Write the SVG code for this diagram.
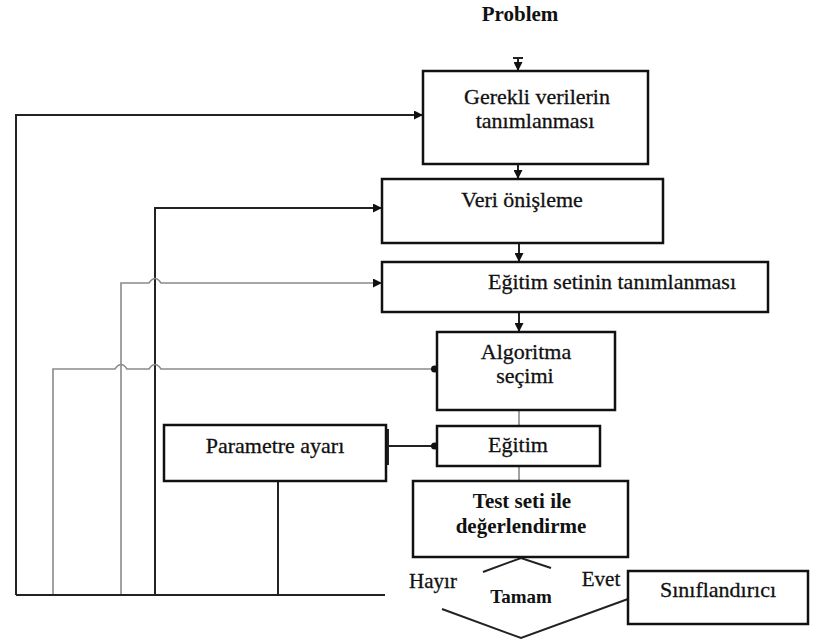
<svg xmlns="http://www.w3.org/2000/svg" width="835" height="644" viewBox="0 0 835 644">
  <style>
    .box { fill: #fff; stroke: #111; stroke-width: 2.5; }
    .t { font-family: "Liberation Serif", "Times New Roman", serif; font-size: 22px; fill: #111; stroke: #111; stroke-width: 0.3; text-anchor: middle; }
    .b { font-weight: bold; stroke-width: 0; }
    .ln { fill: none; stroke: #222; stroke-width: 2; }
    .lg { fill: none; stroke: #8a8a8a; stroke-width: 1.6; }
  </style>
  <defs>
    <marker id="tri" viewBox="0 0 10 10" refX="10" refY="5" markerWidth="9" markerHeight="9" markerUnits="userSpaceOnUse" orient="auto">
      <path d="M0,0 L10,5 L0,10 Z" fill="#111"/>
    </marker>
    <marker id="dot" viewBox="0 0 10 10" refX="8" refY="5" markerWidth="8" markerHeight="8" markerUnits="userSpaceOnUse" orient="auto">
      <circle cx="5" cy="5" r="4.5" fill="#111"/>
    </marker>
  </defs>

  <rect width="835" height="644" fill="#fff"/>

  <text class="t b" x="520" y="21" style="font-size:21px">Problem</text>

  <g id="connectors">
    <!-- main vertical flow -->
    <path class="ln" d="M518,57 V71" marker-end="url(#tri)"/>
    <path class="ln" d="M513,58 H523"/>
    <path class="ln" d="M518,164 V179" marker-end="url(#tri)"/>
    <path class="ln" d="M519,243 V262" marker-end="url(#tri)"/>
    <path class="ln" d="M519,312 V332" marker-end="url(#tri)"/>
    <path class="lg" d="M519,410 V426"/>
    <path class="lg" d="M519,466 V481"/>

    <!-- feedback loops from the bottom bus -->
    <path class="ln" d="M16,595 V115 H423" marker-end="url(#tri)"/>
    <path class="ln" d="M155,595 V208 H382" marker-end="url(#tri)"/>
    <path class="lg" d="M121,595 V283 H149 Q155,274 161,283 H382" marker-end="url(#tri)"/>
    <path class="lg" d="M53,595 V369 H115 Q121,360 127,369 H149 Q155,360 161,369 H437" marker-end="url(#dot)"/>
    <path class="ln" d="M16,595 H385"/>

    <!-- parameter tuning -->
    <path class="ln" d="M386,446 H437" marker-end="url(#dot)"/>
    <path class="ln" d="M388,429 V465"/>
    <path class="ln" d="M278,481 V595"/>

    <!-- decision shape -->
    <path class="ln" d="M483,572 L521,558 L551,568"/>
    <path class="ln" d="M442,609 L521,638 L628,599"/>
  </g>

  <g id="n-gerekli">
    <rect class="box" x="423" y="71" width="225" height="93"/>
    <text class="t" x="537" y="104">Gerekli verilerin</text>
    <text class="t" x="535" y="128">tanımlanması</text>
  </g>

  <g id="n-onisleme">
    <rect class="box" x="382" y="179" width="281" height="64"/>
    <text class="t" x="522" y="207">Veri önişleme</text>
  </g>

  <g id="n-egitimseti">
    <rect class="box" x="382" y="262" width="386" height="50"/>
    <text class="t" x="612" y="289">Eğitim setinin tanımlanması</text>
  </g>

  <g id="n-algoritma">
    <rect class="box" x="437" y="332" width="178" height="78"/>
    <text class="t" x="526" y="359">Algoritma</text>
    <text class="t" x="525" y="383">seçimi</text>
  </g>

  <g id="n-egitim">
    <rect class="box" x="437" y="426" width="163" height="40"/>
    <text class="t" x="518" y="452">Eğitim</text>
  </g>

  <g id="n-parametre">
    <rect class="box" x="164" y="425" width="222" height="56"/>
    <text class="t" x="275" y="453">Parametre ayarı</text>
  </g>

  <g id="n-test">
    <rect class="box" x="413" y="481" width="215" height="76"/>
    <text class="t b" x="522" y="508" style="font-size:21px">Test seti ile</text>
    <text class="t b" x="521" y="533" style="font-size:21px">değerlendirme</text>
  </g>

  <g id="n-tamam">
    <text class="t" x="433" y="588" style="font-size:21px">Hayır</text>
    <text class="t b" x="521" y="603" style="font-size:19px">Tamam</text>
    <text class="t" x="601" y="586" style="font-size:21px">Evet</text>
  </g>

  <g id="n-siniflandirici">
    <rect class="box" x="628" y="571" width="180" height="53"/>
    <text class="t" x="718" y="597">Sınıflandırıcı</text>
  </g>
</svg>
